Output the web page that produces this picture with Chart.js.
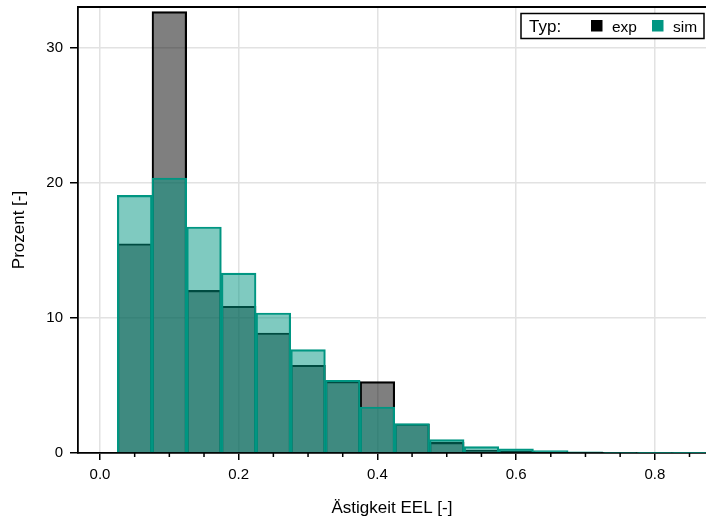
<!DOCTYPE html>
<html>
<head>
<meta charset="utf-8">
<script src="https://cdn.jsdelivr.net/npm/chart.js@4/dist/chart.umd.min.js"></script>
<style>
  body { margin: 0; background: #fff; }
</style>
</head>
<body>
<canvas id="chart" width="706" height="521"></canvas>
<script>
// bin centres (width 0.05) and percentages per bin
const binCenters = [0.0, 0.05, 0.10, 0.15, 0.20, 0.25, 0.30, 0.35, 0.40, 0.45, 0.50, 0.55, 0.60, 0.65, 0.70, 0.75, 0.80, 0.85];
const expValues = [0, 15.5, 32.7, 12.05, 10.87, 8.89, 6.5, 5.31, 5.29, 2.15, 0.79, 0.22, 0.15, 0.05, 0.03, 0.02, 0.02, 0.01];
const simValues = [0, 19.09, 20.37, 16.74, 13.33, 10.37, 7.66, 5.39, 3.41, 2.18, 0.99, 0.47, 0.30, 0.18, 0.08, 0.04, 0.02, 0.01];
const yTicks = [0, 10, 20, 30];

const FONT = '"Liberation Sans", Arial, sans-serif';
const TEAL = 'rgb(0,150,130)';

const isMajor = v => Math.abs(v / 0.2 - Math.round(v / 0.2)) < 1e-6;
const tickMajor = c => !c.tick || isMajor(c.tick.value);

const toPoints = vals => binCenters.map((c, i) => ({ x: c, y: vals[i] }));

// top frame, minor x ticks and the legend box
const extras = {
  id: 'extras',
  afterDraw(chart) {
    const { ctx, chartArea: a, scales: { x } } = chart;
    ctx.save();
    ctx.strokeStyle = '#000';
    ctx.lineWidth = 1.8;
    ctx.beginPath();
    ctx.moveTo(a.left - 1, a.top);
    ctx.lineTo(a.right, a.top);
    ctx.stroke();

    ctx.lineWidth = 1.5;
    ctx.beginPath();
    x.ticks.forEach(t => {
      if (!isMajor(t.value)) {
        const px = x.getPixelForValue(t.value);
        ctx.moveTo(px, a.bottom);
        ctx.lineTo(px, a.bottom + 4);
      }
    });
    ctx.stroke();

    // legend
    ctx.fillStyle = '#fff';
    ctx.fillRect(521, 13.5, 183, 25);
    ctx.strokeRect(521, 13.5, 183, 25);
    ctx.fillStyle = '#000';
    ctx.font = '17px ' + FONT;
    ctx.textBaseline = 'alphabetic';
    ctx.fillText('Typ:', 529, 32);
    ctx.fillRect(591, 20, 11.5, 11.5);
    ctx.font = '15.5px ' + FONT;
    ctx.fillText('exp', 612, 31.5);
    ctx.fillStyle = TEAL;
    ctx.fillRect(652, 20, 11.5, 11.5);
    ctx.fillStyle = '#000';
    ctx.fillText('sim', 673, 31.5);
    ctx.restore();
  }
};

new Chart(document.getElementById('chart'), {
  type: 'bar',
  data: {
    datasets: [
      {
        label: 'exp',
        data: toPoints(expValues),
        backgroundColor: 'rgba(0,0,0,0.5)',
        borderColor: '#000',
        borderWidth: 1.5,
        order: 2
      },
      {
        label: 'sim',
        data: toPoints(simValues),
        backgroundColor: 'rgba(0,150,130,0.5)',
        borderColor: TEAL,
        borderWidth: 1.5,
        order: 1
      }
    ]
  },
  options: {
    responsive: false,
    animation: false,
    layout: { padding: { top: 7, right: 0, left: 0, bottom: 0 } },
    datasets: {
      bar: { grouped: false, barPercentage: 1, categoryPercentage: 1 }
    },
    plugins: {
      legend: { display: false },
      tooltip: { enabled: false }
    },
    scales: {
      x: {
        type: 'linear',
        min: -0.0317,
        max: 0.8738,
        offset: false,
        afterFit: s => { s.height = 68; s.paddingLeft = 0; s.paddingRight = 0; },
        border: { color: '#000', width: 1.8 },
        grid: {
          offset: false,
          color: c => tickMajor(c) ? '#e2e2e2' : 'rgba(0,0,0,0)',
          lineWidth: 1.5,
          tickLength: 7,
          tickColor: c => tickMajor(c) ? '#000' : 'rgba(0,0,0,0)',
          tickWidth: 1.5
        },
        ticks: {
          stepSize: 0.05,
          includeBounds: false,
          autoSkip: false,
          maxRotation: 0,
          padding: 6,
          color: '#000',
          font: { family: FONT, size: 15 },
          callback: v => isMajor(v) ? v.toFixed(1) : ''
        },
        title: {
          display: true,
          text: 'Ästigkeit EEL [-]',
          color: '#000',
          font: { family: FONT, size: 17 },
          padding: { top: 0, bottom: 2 }
        }
      },
      y: {
        min: 0,
        max: 33.04,
        afterFit: s => { s.width = 78; s.paddingTop = 0; s.paddingBottom = 0; },
        afterBuildTicks: s => { s.ticks = yTicks.map(v => ({ value: v })); },
        border: { color: '#000', width: 1.8 },
        grid: {
          color: '#e2e2e2',
          lineWidth: 1.5,
          tickLength: 8,
          tickColor: '#000',
          tickWidth: 1.5
        },
        ticks: {
          padding: 7,
          color: '#000',
          font: { family: FONT, size: 15 }
        },
        title: {
          display: true,
          text: 'Prozent [-]',
          color: '#000',
          font: { family: FONT, size: 17 },
          padding: { top: 9, bottom: 0 }
        }
      }
    }
  },
  plugins: [extras]
});
</script>
</body>
</html>
